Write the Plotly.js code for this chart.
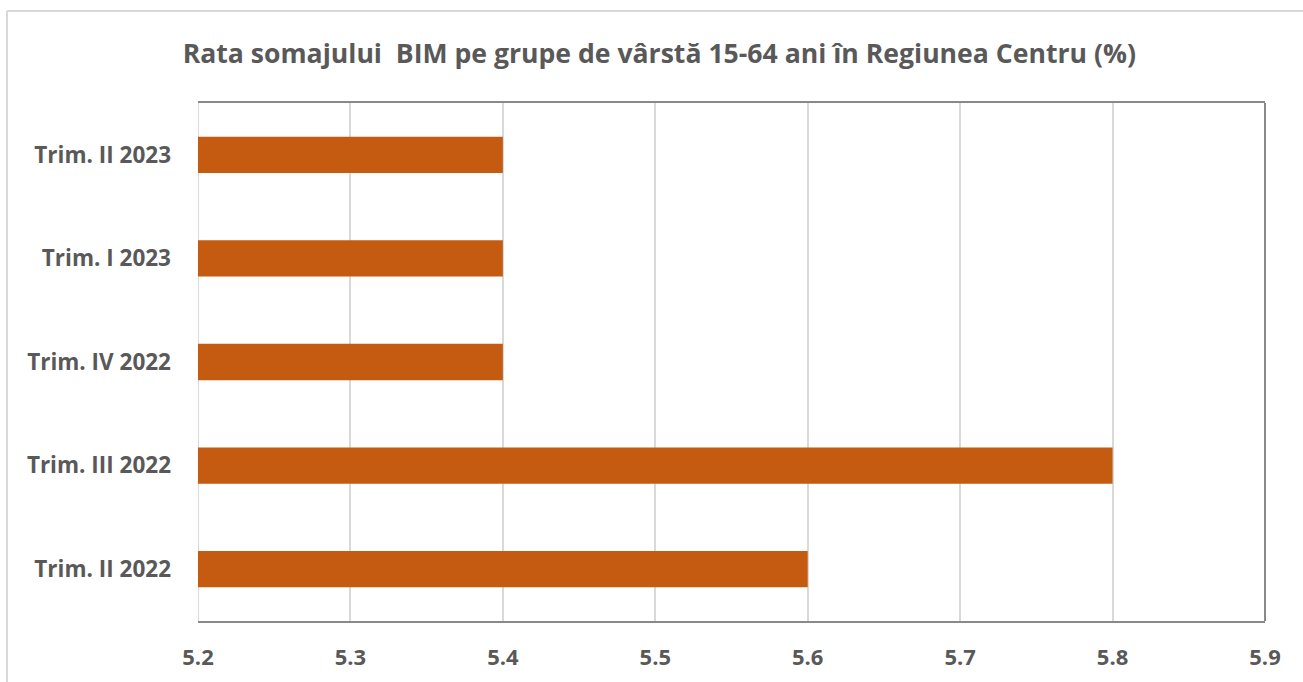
<!DOCTYPE html>
<html>
<head>
<meta charset="utf-8">
<script src="https://cdn.plot.ly/plotly-3.0.1.min.js"></script>
<style>html,body{margin:0;padding:0;background:#fff;}#chart{width:1303px;height:682px;}</style>
</head>
<body>
<div id="chart"></div>
<script>
const categories = ["Trim. II 2022", "Trim. III 2022", "Trim. IV 2022", "Trim. I 2023", "Trim. II 2023"];
const values = [5.6, 5.8, 5.4, 5.4, 5.4];
const xTicks = [5.2, 5.3, 5.4, 5.5, 5.6, 5.7, 5.8, 5.9];
const titleText = "Rata somajului  BIM pe grupe de vârstă 15-64 ani în Regiunea Centru (%)";

const FONT = "Open Sans, sans-serif";
const trace = {
  type: "bar",
  orientation: "h",
  y: categories,
  x: values,
  base: 0,
  marker: {color: "#C55A11", line: {width: 0}},
  hoverinfo: "x+y"
};
const layout = {
  width: 1303, height: 682,
  margin: {l: 198, r: 38, t: 103, b: 61},
  paper_bgcolor: "#ffffff", plot_bgcolor: "#ffffff",
  bargap: 0.65,
  showlegend: false,
  title: {text: "<b>" + titleText + "</b>", x: 0.506, xanchor: "center", y: 0.922, yanchor: "middle",
          font: {family: FONT, size: 26.6, color: "#595959"}},
  xaxis: {
    range: [5.2, 5.9], tickvals: xTicks, ticktext: xTicks.map(v => "<b>" + v.toFixed(1) + "</b>"),
    showgrid: true, gridcolor: "#d9d9d9", gridwidth: 2, zeroline: false,
    showline: true, linecolor: "#898989", linewidth: 2, mirror: true,
    ticks: "", ticklabelstandoff: 16,
    tickfont: {family: FONT, size: 22, color: "#595959"}, fixedrange: true
  },
  yaxis: {
    type: "category", categoryorder: "array", categoryarray: categories,
    showgrid: false, zeroline: false, showline: false,
    ticks: "", ticklabelstandoff: 26,
    tickvals: categories, ticktext: categories.map(c => "<b>" + c + "</b>"),
    tickfont: {family: FONT, size: 22.5, color: "#595959"}, fixedrange: true
  },
  shapes: [
    {type: "line", xref: "x", yref: "paper", x0: 5.2, x1: 5.2, y0: 0, y1: 1, line: {color: "#d9d9d9", width: 2}, layer: "below"},
    {type: "line", xref: "paper", yref: "paper", x0: 1, x1: 1, y0: 0, y1: 1, line: {color: "#898989", width: 2}},
    {type: "line", xref: "paper", yref: "paper", x0: -0.179, x1: -0.179, y0: -0.2, y1: 1.1776, line: {color: "#d9d9d9", width: 2}},
    {type: "line", xref: "paper", yref: "paper", x0: -0.179, x1: 1.1, y0: 1.1776, y1: 1.1776, line: {color: "#d9d9d9", width: 2}}
  ]
};
Plotly.newPlot("chart", [trace], layout, {displayModeBar: false, staticPlot: true});
</script>
</body>
</html>
